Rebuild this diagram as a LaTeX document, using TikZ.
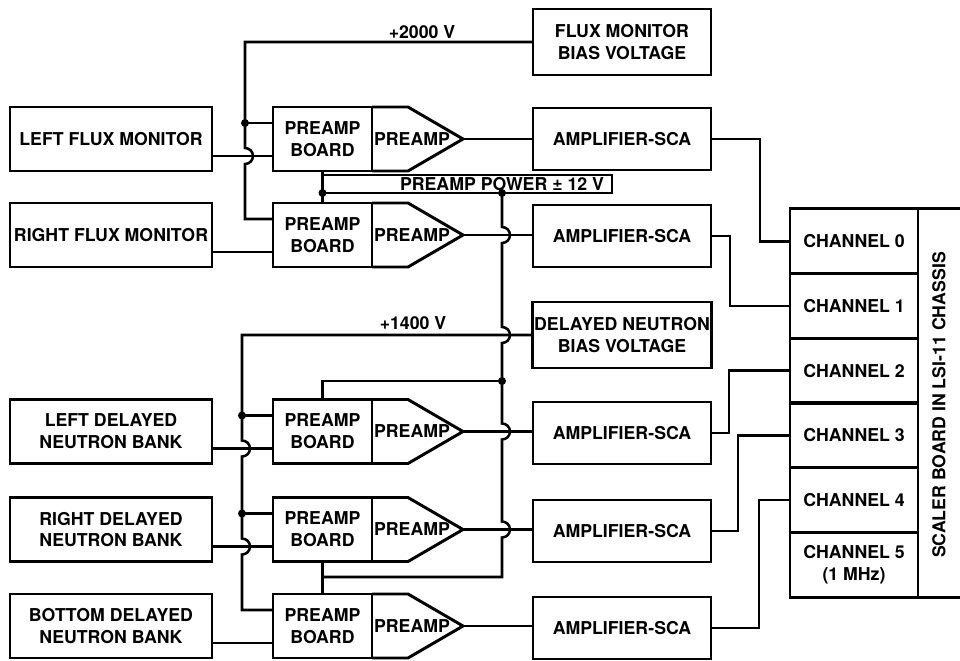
\documentclass[tikz,border=0pt]{standalone}
\usepackage{fontspec}
\setmainfont{TeX Gyre Heros}
\usetikzlibrary{calc}
\newcommand{\boxfont}{\fontsize{12.6}{15.5}\selectfont\bfseries}
\newcommand{\preamp}[2]{%
  \draw[boxline] (#1.north east) -- ++(36,0) -- ++(55,32) coordinate (#2)
    -- ++(-55,32) -- (#1.south east);
  \node[lab] (#2t) at ($(#1.east)+(40,0)$) {PREAMP};}

\begin{document}
\begin{tikzpicture}[
  x=0.25mm, y=-0.25mm,
  box/.style={draw, line width=2.1pt, outer sep=0pt, inner sep=1pt, align=center, font=\boxfont},
  src/.style={box, minimum width=50.5mm, minimum height=16mm},
  board/.style={box, minimum width=24.75mm, minimum height=16mm},
  ampbox/.style={box, minimum width=44.5mm, minimum height=15.5mm},
  biasbox/.style={box, minimum width=44.5mm, minimum height=16.5mm},
  chan/.style={box, minimum width=32mm, minimum height=16.17mm},
  boxline/.style={line width=2.1pt, line join=miter},
  wire/.style={line width=1.8pt},
  dot/.style={circle, fill, inner sep=0pt, minimum size=2mm},
  lab/.style={font=\boxfont, inner sep=1pt}
]
\useasboundingbox (0,0) rectangle (960,660);

%% ---------- detectors ----------
\node[src] (lfm) at (111,139)   {LEFT FLUX MONITOR};
\node[src] (rfm) at (111,235)   {RIGHT FLUX MONITOR};
\node[src] (ldn) at (111,431.5) {LEFT DELAYED\\NEUTRON BANK};
\node[src] (rdn) at (111,529.5) {RIGHT DELAYED\\NEUTRON BANK};
\node[src] (bdn) at (111,626)   {BOTTOM DELAYED\\NEUTRON BANK};

%% ---------- preamp boards ----------
\node[board] (b1) at (322.5,139)   {PREAMP\\BOARD};
\node[board] (b2) at (322.5,235)   {PREAMP\\BOARD};
\node[board] (b3) at (322.5,431.5) {PREAMP\\BOARD};
\node[board] (b4) at (322.5,529.5) {PREAMP\\BOARD};
\node[board] (b5) at (322.5,626)   {PREAMP\\BOARD};
\preamp{b1}{p1}
\preamp{b2}{p2}
\preamp{b3}{p3}
\preamp{b4}{p4}
\preamp{b5}{p5}

%% ---------- bias supplies ----------
\node[biasbox] (fmb) at (622,42)  {FLUX MONITOR\\BIAS VOLTAGE};
\node[biasbox] (dnb) at (622,335) {DELAYED NEUTRON\\BIAS VOLTAGE};

%% ---------- amplifiers ----------
\node[ampbox] (a1) at (622,139) {AMPLIFIER-SCA};
\node[ampbox] (a2) at (622,236) {AMPLIFIER-SCA};
\node[ampbox] (a3) at (622,433) {AMPLIFIER-SCA};
\node[ampbox] (a4) at (622,531) {AMPLIFIER-SCA};
\node[ampbox] (a5) at (622,628) {AMPLIFIER-SCA};

%% ---------- scaler board ----------
\node[chan] (ch0) at (854,241.3) {CHANNEL 0};
\node[chan] (ch1) at (854,306)   {CHANNEL 1};
\node[chan] (ch2) at (854,370.7) {CHANNEL 2};
\node[chan] (ch3) at (854,435.3) {CHANNEL 3};
\node[chan] (ch4) at (854,500)   {CHANNEL 4};
\node[chan] (ch5) at (854,564.7) {CHANNEL 5\\(1 MHz)};
\draw[boxline] (ch0.north east) -- ++(42,0);
\draw[boxline] (ch5.south east) -- ++(42,0);
\node[lab, rotate=90] (scl) at (939,405) {SCALER BOARD IN LSI-11 CHASSIS};

%% ---------- labels ----------
\node[lab] (v2k) at (422,32)  {+2000 V};
\node[lab] (v14) at (413,323) {+1400 V};
\node[lab] (pwr) at (502,184) {PREAMP POWER ± 12 V};

%% ---------- detector inputs ----------
\draw[wire] ($(lfm.east)+(0,17)$) -- ($(b1.west)+(0,17)$);
\draw[wire] ($(rfm.east)+(0,17)$) -- ($(b2.west)+(0,17)$);
\draw[wire] ($(ldn.east)+(0,17)$) -- ($(b3.west)+(0,17)$);
\draw[wire] ($(rdn.east)+(0,17)$) -- ($(b4.west)+(0,17)$);
\draw[wire] ($(bdn.east)+(0,17)$) -- ($(b5.west)+(0,17)$);

%% ---------- +2000 V bus ----------
\draw[wire] (fmb.west) -- (245,42) -- (245,148)
  arc[start angle=-90, end angle=90, radius=8] -- (245,219) -- ($(b2.west)+(0,-16)$);
\draw[wire] (245,123) -- ($(b1.west)+(0,-16)$);
\node[dot] (d1) at (245,123) {};

%% ---------- +1400 V bus ----------
\draw[wire] (dnb.west) -- (242,335) -- (242,440.5)
  arc[start angle=-90, end angle=90, radius=8] -- (242,538.5)
  arc[start angle=-90, end angle=90, radius=8] -- (242,610) -- ($(b5.west)+(0,-16)$);
\draw[wire] (242,415.5) -- ($(b3.west)+(0,-16)$);
\draw[wire] (242,513.5) -- ($(b4.west)+(0,-16)$);
\node[dot] (d2) at (242,415.5) {};
\node[dot] (d3) at (242,513.5) {};

%% ---------- preamp power ----------
\draw[wire] (b1.south) -- (b2.north);
\draw[wire] (322.5,175) -- (612,175) -- (612,193) -- (322.5,193);
\draw[wire] (502,193) -- (502,227)
  arc[start angle=-90, end angle=90, radius=8] -- (502,327)
  arc[start angle=-90, end angle=90, radius=8] -- (502,423.5)
  arc[start angle=-90, end angle=90, radius=8] -- (502,521.5)
  arc[start angle=-90, end angle=90, radius=8] -- (502,577) -- (322.5,577);
\draw[wire] (502,381) -- (322.5,381) -- (b3.north);
\draw[wire] (b4.south) -- (b5.north);
\node[dot] (d4) at (322.5,193) {};
\node[dot] (d5) at (502,193) {};
\node[dot] (d6) at (502,381) {};

%% ---------- preamp outputs ----------
\draw[wire] (p1) -- (a1.west |- p1);
\draw[wire] (p2) -- (a2.west |- p2);
\draw[wire] (p3) -- (a3.west |- p3);
\draw[wire] (p4) -- (a4.west |- p4);
\draw[wire] (p5) -- (a5.west |- p5);

%% ---------- to scaler channels ----------
\draw[wire] (a1.east) -- ++(49,0) |- (ch0.west);
\draw[wire] (a2.east) -- ++(19,0) |- (ch1.west);
\draw[wire] (a3.east) -- ++(18,0) |- (ch2.west);
\draw[wire] (a4.east) -- ++(27,0) |- (ch3.west);
\draw[wire] (a5.east) -- ++(48,0) |- (ch4.west);

\end{tikzpicture}
\end{document}
